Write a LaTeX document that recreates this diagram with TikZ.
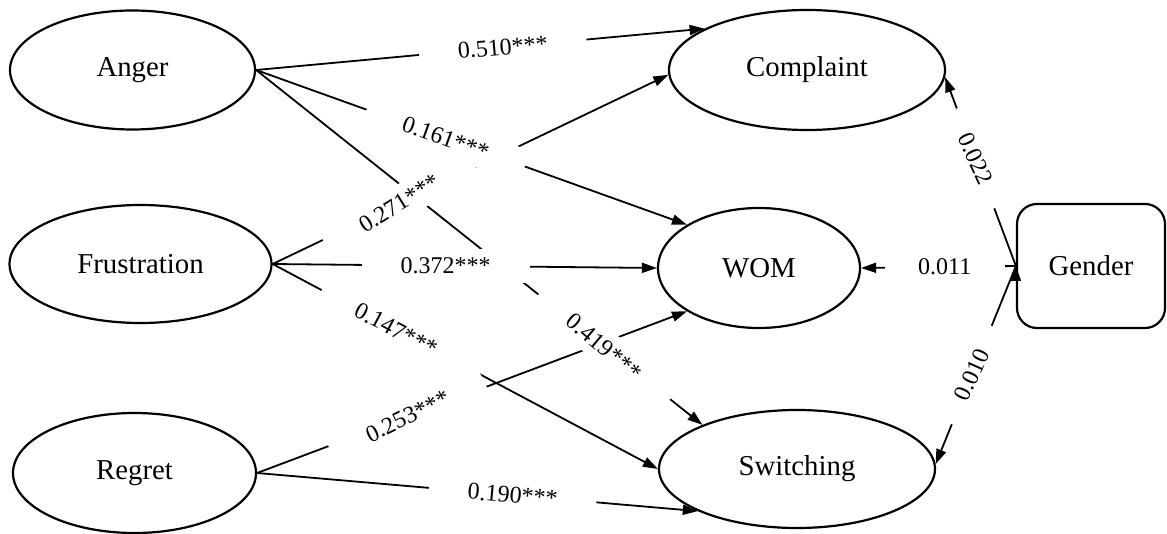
\documentclass[tikz,border=0pt]{standalone}
\usepackage{fontspec}
\setmainfont{Liberation Serif}
\usetikzlibrary{arrows.meta}
\usetikzlibrary{calc}
\usetikzlibrary{shapes.geometric}

\begin{document}
\begin{tikzpicture}[x=0.5pt,y=-0.5pt,
    latent/.style={draw,ellipse,line width=1.1pt,inner sep=0pt,font=\fontsize{14.4}{16}\selectfont},
    coef/.style={fill=white,inner sep=0pt,minimum width=84pt,minimum height=17pt,font=\fontsize{12}{14}\selectfont},
    coefshort/.style={coef,minimum width=53pt}]
  \useasboundingbox (0,0) rectangle (1167,534);

  \node [latent,minimum width=122.5pt,minimum height=59.5pt] (Anger) at (132.5,70) {Anger};
  \node [latent,minimum width=131pt,minimum height=59pt] (Frustration) at (140.5,264) {Frustration};
  \node [latent,minimum width=121.5pt,minimum height=60pt] (Regret) at (134.5,473) {Regret};

  \node [latent,minimum width=138pt,minimum height=60pt] (Complaint) at (807,70) {Complaint};
  \node [latent,minimum width=101pt,minimum height=60pt] (WOM) at (759,268) {WOM};
  \node [latent,minimum width=138pt,minimum height=59pt] (Switching) at (797,469) {Switching};

  \node [draw,rectangle,rounded corners=10pt,line width=1.1pt,minimum width=74pt,minimum height=62pt,font=\fontsize{14.4}{16}\selectfont] (Gender) at (1091,266) {Gender};

  \path [draw,line width=0.9pt,->,>={Triangle[length=7.5pt,width=5pt]}]
    (Anger.east) edge (Complaint.158)
    (Anger.east) edge (WOM.149)
    (Anger.east) edge (Switching.155)
    (Frustration.east) edge (Complaint.182)
    (Frustration.east) edge (WOM.west)
    (Frustration.east) edge (Switching.west)
    (Regret.east) edge (WOM.211)
    (Regret.east) edge (Switching.203)
    (Gender.west) edge (Complaint.-3)
    (Gender.west) edge (WOM.east)
    (Gender.west) edge (Switching.2);

  \node [coef,rotate=5] (c510) at ($(Anger.east)!0.55!(Complaint.158)$) {0.510***};
  \node [coef,rotate=-20] (c161) at ($(Anger.east)!0.44!(WOM.149)$) {0.161***};
  \node [coef,rotate=-40] (c419) at ($(Anger.east)!0.78!(Switching.155)$) {0.419***};
  \node [coef,rotate=32] (c271) at ($(Frustration.east)!0.32!(Complaint.182)$) {0.271***};
  \node [coef] (c372) at ($(Frustration.east)!0.45!(WOM.west)$) {0.372***};
  \node [coef,rotate=-28] (c147) at ($(Frustration.east)!0.32!(Switching.west)$) {0.147***};
  \node [coef,rotate=26] (c253) at ($(Regret.east)!0.35!(WOM.211)$) {0.253***};
  \node [coef,rotate=-5] (c190) at ($(Regret.east)!0.58!(Switching.203)$) {0.190***};
  \node [coefshort,rotate=-65] (c022) at ($(Gender.west)!0.57!(Complaint.-3)$) {0.022};
  \node [coefshort,minimum width=60pt] (c011) at ($(Gender.west)!0.46!(WOM.east)$) {0.011};
  \node [coefshort,rotate=66] (c010) at ($(Gender.west)!0.55!(Switching.2)$) {0.010};
\end{tikzpicture}
\end{document}
